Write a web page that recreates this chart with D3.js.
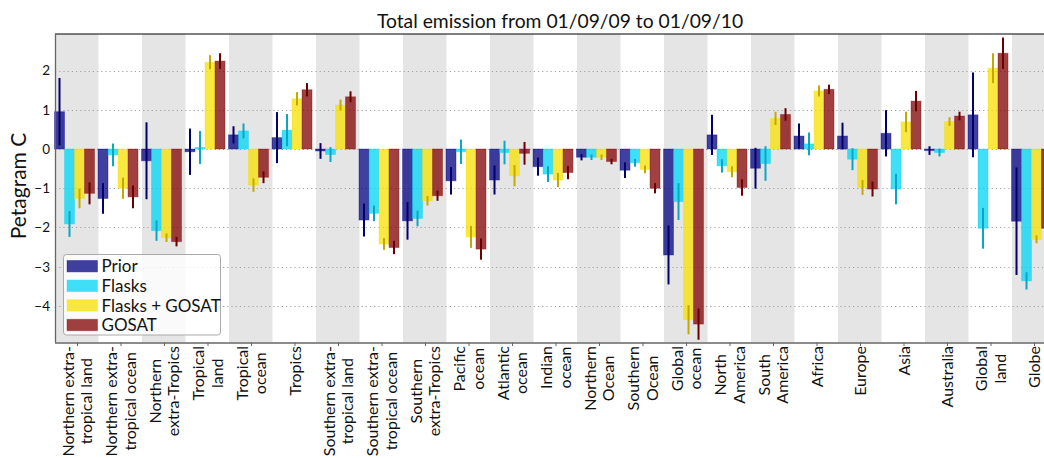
<!DOCTYPE html>
<html>
<head>
<meta charset="utf-8">
<script src="https://cdn.jsdelivr.net/npm/d3@7"></script>
<style>
  html, body { margin: 0; padding: 0; background: #fff; }
  svg { display: block; font-family: Lato, "DejaVu Sans", sans-serif; }
</style>
</head>
<body>
<svg id="chart" width="1044" height="458"></svg>
<script>
const categories = [
  "Northern extra-\ntropical land",
  "Northern extra-\ntropical ocean",
  "Northern\nextra-Tropics",
  "Tropical\nland",
  "Tropical\nocean",
  "Tropics",
  "Southern extra-\ntropical land",
  "Southern extra-\ntropical ocean",
  "Southern\nextra-Tropics",
  "Pacific\nocean",
  "Atlantic\nocean",
  "Indian\nocean",
  "Northern\nOcean",
  "Southern\nOcean",
  "Global\nocean",
  "North\nAmerica",
  "South\nAmerica",
  "Africa",
  "Europe",
  "Asia",
  "Australia",
  "Global\nland",
  "Globe"
];
const seriesNames = ["Prior", "Flasks", "Flasks + GOSAT", "GOSAT"];
const prior       = [0.95, -1.26, -0.30, -0.07, 0.36, 0.29, -0.05, -1.81, -1.83, -0.81, -0.79, -0.45, -0.21, -0.54, -2.70, 0.36, -0.49, 0.33, 0.33, 0.40, -0.04, 0.87, -1.84];
const priorErr    = [0.86, 0.39, 0.98, 0.59, 0.22, 0.65, 0.20, 0.42, 0.48, 0.35, 0.37, 0.23, 0.08, 0.20, 0.75, 0.51, 0.52, 0.32, 0.34, 0.59, 0.11, 1.08, 1.37];
const flasks      = [-1.91, -0.15, -2.08, 0.04, 0.46, 0.48, -0.14, -1.64, -1.77, -0.07, -0.09, -0.64, -0.21, -0.35, -1.34, -0.43, -0.37, 0.13, -0.26, -1.02, -0.09, -2.02, -3.36];
const flasksErr   = [0.33, 0.29, 0.26, 0.42, 0.19, 0.41, 0.19, 0.20, 0.20, 0.31, 0.30, 0.20, 0.07, 0.10, 0.47, 0.17, 0.44, 0.29, 0.28, 0.39, 0.10, 0.52, 0.22];
const flasksGosat = [-1.26, -1.00, -2.26, 2.21, -0.92, 1.28, 1.12, -2.42, -1.32, -2.24, -0.68, -0.79, -0.21, -0.52, -4.35, -0.58, 0.78, 1.48, -0.98, 0.69, 0.70, 2.06, -2.30];
const flasksGosatErr = [0.25, 0.27, 0.11, 0.18, 0.17, 0.17, 0.14, 0.15, 0.12, 0.28, 0.27, 0.18, 0.07, 0.10, 0.37, 0.14, 0.17, 0.14, 0.19, 0.26, 0.11, 0.38, 0.10];
const gosat       = [-1.13, -1.22, -2.36, 2.24, -0.72, 1.51, 1.33, -2.51, -1.19, -2.55, -0.11, -0.60, -0.32, -1.00, -4.46, -0.98, 0.88, 1.52, -1.02, 1.22, 0.84, 2.44, -2.02];
const gosatErr    = [0.28, 0.29, 0.12, 0.20, 0.15, 0.17, 0.14, 0.17, 0.13, 0.27, 0.29, 0.17, 0.07, 0.13, 0.40, 0.21, 0.16, 0.12, 0.19, 0.26, 0.11, 0.40, 0.15];
const yTicks = [-4, -3, -2, -1, 0, 1, 2];
const titleText = "Total emission from 01/09/09 to 01/09/10";
const yLabel = "Petagram C";

const series = [
  { name: seriesNames[0], values: prior, errs: priorErr, fill: "#000080", err: "#00006e" },
  { name: seriesNames[1], values: flasks, errs: flasksErr, fill: "#00d4f6", err: "#0aa6c6" },
  { name: seriesNames[2], values: flasksGosat, errs: flasksGosatErr, fill: "#f7e000", err: "#c4aa00" },
  { name: seriesNames[3], values: gosat, errs: gosatErr, fill: "#800000", err: "#6a0000" }
];

const svg = d3.select("#chart");
const mLeft = 55, mTop = 34, mBottom = 342.5;
const groupW = 43.5;
const mRight = mLeft + categories.length * groupW;

const x = d3.scaleBand().domain(d3.range(categories.length)).range([mLeft, mRight]).padding(0);
const y = d3.scaleLinear().domain([-4.93, 2.93]).range([mBottom, mTop]);
const bw = x.bandwidth() * 0.23;

// alternating bands
svg.append("g").selectAll("rect").data(d3.range(categories.length).filter(i => i % 2 === 0))
  .join("rect")
  .attr("x", i => x(i)).attr("y", mTop)
  .attr("width", x.bandwidth()).attr("height", mBottom - mTop)
  .attr("fill", "#e5e5e5");

// grid
svg.append("g").selectAll("line").data(yTicks).join("line")
  .attr("x1", mLeft).attr("x2", mRight)
  .attr("y1", d => Math.round(y(d)) + 0.5).attr("y2", d => Math.round(y(d)) + 0.5)
  .attr("stroke", "#a0a0a0").attr("stroke-width", 1)
  .attr("stroke-dasharray", "1.2,3");

// bars
series.forEach((s, j) => {
  const g = svg.append("g");
  g.selectAll("rect").data(s.values).join("rect")
    .attr("x", (d, i) => x(i) + j * bw - 0.5)
    .attr("y", d => y(Math.max(0, d)))
    .attr("width", bw)
    .attr("height", d => Math.abs(y(d) - y(0)))
    .attr("fill", s.fill).attr("fill-opacity", 0.75)
    .attr("stroke", s.fill).attr("stroke-opacity", 0.35).attr("stroke-width", 1);
});
// error bars
series.forEach((s, j) => {
  const g = svg.append("g");
  g.selectAll("line").data(s.values).join("line")
    .attr("x1", (d, i) => x(i) + j * bw - 0.5 + bw / 2)
    .attr("x2", (d, i) => x(i) + j * bw - 0.5 + bw / 2)
    .attr("y1", (d, i) => y(d + s.errs[i]))
    .attr("y2", (d, i) => y(d - s.errs[i]))
    .attr("stroke", s.err).attr("stroke-width", 2);
});

// spines
svg.append("line").attr("x1", mLeft).attr("x2", 1044).attr("y1", mTop).attr("y2", mTop)
  .attr("stroke", "#000").attr("stroke-width", 1.2);
svg.append("line").attr("x1", mLeft + 0.5).attr("x2", mLeft + 0.5).attr("y1", mTop).attr("y2", mBottom)
  .attr("stroke", "#666").attr("stroke-width", 1.3);
svg.append("line").attr("x1", mLeft).attr("x2", 1044).attr("y1", mBottom + 0.5).attr("y2", mBottom + 0.5)
  .attr("stroke", "#666").attr("stroke-width", 1.3);

// y tick labels
svg.append("g").selectAll("text").data(yTicks).join("text")
  .attr("x", 50).attr("y", d => y(d))
  .attr("dy", "0.36em")
  .attr("text-anchor", "end")
  .attr("font-size", 13.5).attr("fill", "#111")
  .text(d => d < 0 ? "\u2212" + Math.abs(d) : String(d));

// x ticks
const tickX = i => x(i) + 22.5;
svg.append("g").selectAll("line").data(d3.range(categories.length)).join("line")
  .attr("x1", tickX).attr("x2", tickX)
  .attr("y1", mBottom).attr("y2", mBottom + 3.5)
  .attr("stroke", "#666").attr("stroke-width", 1);

// x labels
const labG = svg.append("g");
categories.forEach((c, i) => {
  const lines = c.split("\n");
  const g = labG.append("g").attr("transform", `translate(${tickX(i)},346) rotate(-90)`);
  const texts = lines.map((ln, k) => g.append("text")
    .attr("font-size", 16).attr("fill", "#111")
    .attr("y", (k - (lines.length - 1) / 2) * 18.6)
    .attr("dy", "0.35em")
    .attr("text-anchor", "middle")
    .text(ln));
  const maxLen = d3.max(texts, t => t.node().getComputedTextLength());
  texts.forEach(t => t.attr("x", -maxLen / 2));
});

// title
svg.append("text").attr("x", 560).attr("y", 28)
  .attr("text-anchor", "middle").attr("font-size", 19.3).attr("fill", "#111")
  .text(titleText);

// y label
svg.append("text").attr("transform", "translate(26,186) rotate(-90)")
  .attr("text-anchor", "middle").attr("font-size", 21).attr("fill", "#111")
  .text(yLabel);

// legend
const leg = svg.append("g");
leg.append("rect").attr("x", 63.5).attr("y", 254.5).attr("width", 157).attr("height", 80.5)
  .attr("rx", 3).attr("fill", "#fff").attr("fill-opacity", 0.8)
  .attr("stroke", "#aaa").attr("stroke-width", 1);
series.forEach((s, j) => {
  const cy = 266.2 + j * 19.6;
  leg.append("rect").attr("x", 67).attr("y", cy - 5.7).attr("width", 30.5).attr("height", 11.4)
    .attr("fill", s.fill).attr("fill-opacity", 0.75)
    .attr("stroke", s.fill).attr("stroke-opacity", 0.35);
  leg.append("text").attr("x", 101.5).attr("y", cy).attr("dy", "0.36em")
    .attr("font-size", 17).attr("fill", "#111").text(s.name);
});
</script>
</body>
</html>
